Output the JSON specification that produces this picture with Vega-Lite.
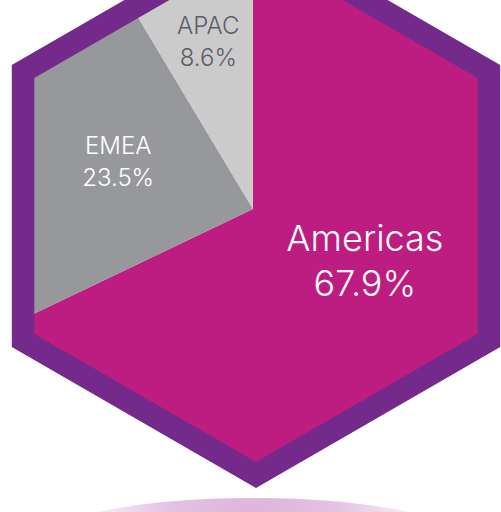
{
  "$schema": "https://vega.github.io/schema/vega-lite/v6.json",
  "width": 501,
  "height": 512,
  "padding": 0,
  "autosize": {"type": "none"},
  "background": "#ffffff",
  "config": {"view": {"stroke": null}},
  "resolve": {"scale": {"theta": "independent"}},
  "datasets": {
    "regions": [
      {"region": "Americas", "share": 0.679},
      {"region": "EMEA", "share": 0.235},
      {"region": "APAC", "share": 0.086}
    ],
    "decor": [{"part": "hexagon"}]
  },
  "layer": [
    {
      "data": {"name": "regions"},
      "mark": {"type": "arc", "outerRadius": 330},
      "encoding": {
        "theta": {"field": "share", "type": "quantitative", "stack": true},
        "order": {"field": "share", "type": "quantitative", "sort": "descending"},
        "color": {"field": "region", "type": "nominal", "scale": {"domain": ["Americas", "EMEA", "APAC"], "range": ["#bd1c80", "#97989b", "#cbcbcc"]}, "legend": null},
        "x": {"datum": 253, "type": "quantitative", "scale": {"domain": [0, 501], "nice": false, "zero": false}, "axis": null},
        "y": {"datum": 209, "type": "quantitative", "scale": {"domain": [512, 0], "nice": false, "zero": false}, "axis": null}
      }
    },
    {
      "data": {"name": "decor"},
      "mark": {"type": "point", "filled": true, "opacity": 1, "strokeWidth": 0, "fill": "#742a8a", "size": 318096, "shape": "M0,-1.01L0.8747,-0.505L0.8747,0.505L0,1.01L-0.8747,0.505L-0.8747,-0.505ZM0,-0.9078L-0.7862,-0.4539L-0.7862,0.4539L0,0.9078L0.7862,0.4539L0.7862,-0.4539Z"},
      "encoding": {
        "x": {"datum": 256, "type": "quantitative", "scale": {"domain": [0, 501], "nice": false, "zero": false}, "axis": null},
        "y": {"datum": 206, "type": "quantitative", "scale": {"domain": [512, 0], "nice": false, "zero": false}, "axis": null}
      }
    },
    {
      "data": {"name": "decor"},
      "mark": {"type": "point", "filled": true, "opacity": 1, "strokeWidth": 0, "fill": "#ffffff", "size": 318096, "shape": "M-3,-3L3,-3L3,3L-3,3ZM0,-1L-0.866,-0.5L-0.866,0.5L0,1L0.866,0.5L0.866,-0.5Z"},
      "encoding": {
        "x": {"datum": 256, "type": "quantitative", "scale": {"domain": [0, 501], "nice": false, "zero": false}, "axis": null},
        "y": {"datum": 206, "type": "quantitative", "scale": {"domain": [512, 0], "nice": false, "zero": false}, "axis": null}
      }
    },
    {
      "data": {"name": "decor"},
      "mark": {
        "type": "point", "filled": true, "opacity": 1, "strokeWidth": 0, "size": 160000,
        "shape": "M-1,0A1,0.19 0 1,0 1,0A1,0.19 0 1,0 -1,0Z",
        "fill": {"gradient": "radial", "x1": 0.5, "y1": 0.5, "r1": 0, "x2": 0.5, "y2": 0.5, "r2": 0.5,
          "stops": [{"offset": 0, "color": "#dcb0d8"}, {"offset": 0.45, "color": "#e5c3e2"}, {"offset": 0.78, "color": "#f6ebf5"}, {"offset": 1, "color": "#ffffff"}]}
      },
      "encoding": {
        "x": {"datum": 253, "type": "quantitative", "scale": {"domain": [0, 501], "nice": false, "zero": false}, "axis": null},
        "y": {"datum": 536, "type": "quantitative", "scale": {"domain": [512, 0], "nice": false, "zero": false}, "axis": null}
      }
    },
    {
      "data": {"name": "regions"},
      "mark": {"type": "text", "baseline": "bottom", "align": "center", "dy": -3, "font": "Inter", "fontWeight": 300},
      "encoding": {
        "theta": {"field": "share", "type": "quantitative", "stack": true, "scale": {"type": "pow", "exponent": 0.8, "domain": [0, 1], "range": [-1.0856, 6.276]}},
        "order": {"field": "share", "type": "quantitative", "sort": "descending"},
        "radius": {"field": "share", "type": "quantitative", "scale": {"type": "pow", "exponent": -0.5, "domain": [0.086, 0.679], "range": [173, 124], "nice": false, "zero": false}},
        "size": {"field": "share", "type": "quantitative", "scale": {"type": "threshold", "domain": [0.5], "range": [24, 36]}, "legend": null},
        "fill": {"condition": {"test": "datum.region === 'APAC'", "value": "#5c5e66"}, "value": "#ffffff"},
        "text": {"field": "region", "type": "nominal"},
        "x": {"datum": 253, "type": "quantitative", "scale": {"domain": [0, 501], "nice": false, "zero": false}, "axis": null},
        "y": {"datum": 209, "type": "quantitative", "scale": {"domain": [512, 0], "nice": false, "zero": false}, "axis": null}
      }
    },
    {
      "data": {"name": "regions"},
      "mark": {"type": "text", "baseline": "top", "align": "center", "dy": 5.5, "font": "Inter", "fontWeight": 300},
      "encoding": {
        "theta": {"field": "share", "type": "quantitative", "stack": true, "scale": {"type": "pow", "exponent": 0.8, "domain": [0, 1], "range": [-1.0856, 6.276]}},
        "order": {"field": "share", "type": "quantitative", "sort": "descending"},
        "radius": {"field": "share", "type": "quantitative", "scale": {"type": "pow", "exponent": -0.5, "domain": [0.086, 0.679], "range": [173, 124], "nice": false, "zero": false}},
        "size": {"field": "share", "type": "quantitative", "scale": {"type": "threshold", "domain": [0.5], "range": [24, 36]}, "legend": null},
        "fill": {"condition": {"test": "datum.region === 'APAC'", "value": "#5c5e66"}, "value": "#ffffff"},
        "text": {"field": "share", "type": "quantitative", "format": ".1%"},
        "x": {"datum": 253, "type": "quantitative", "scale": {"domain": [0, 501], "nice": false, "zero": false}, "axis": null},
        "y": {"datum": 209, "type": "quantitative", "scale": {"domain": [512, 0], "nice": false, "zero": false}, "axis": null}
      }
    }
  ]
}
